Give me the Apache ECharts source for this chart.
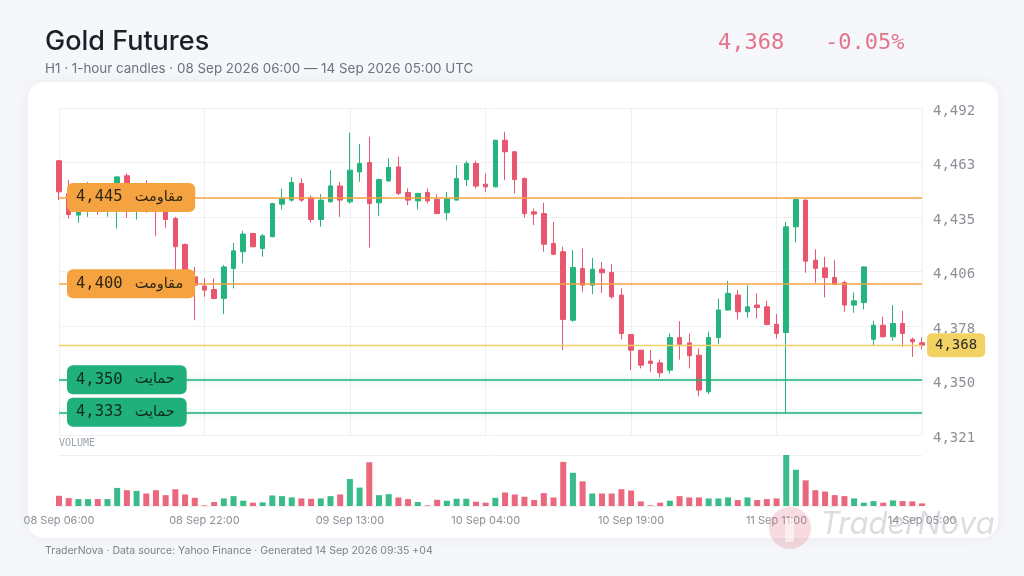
<!DOCTYPE html>
<html><head><meta charset="utf-8">
<script src="https://cdn.jsdelivr.net/npm/echarts@6/dist/echarts.min.js"></script>
<style>html,body{margin:0;padding:0;background:#f6f7fa}#c{width:1024px;height:576px}</style>
</head><body><div id="c"></div>
<script>
const categories = [
'08 Sep 06:00','08 Sep 07:00','08 Sep 08:00','08 Sep 09:00','08 Sep 10:00','08 Sep 11:00','08 Sep 12:00','08 Sep 13:00','08 Sep 14:00','08 Sep 15:00',
'08 Sep 16:00','08 Sep 17:00','08 Sep 18:00','08 Sep 19:00','08 Sep 20:00','08 Sep 22:00','08 Sep 23:00',
'09 Sep 00:00','09 Sep 01:00','09 Sep 02:00','09 Sep 03:00','09 Sep 04:00','09 Sep 05:00','09 Sep 06:00','09 Sep 07:00','09 Sep 08:00','09 Sep 09:00',
'09 Sep 10:00','09 Sep 11:00','09 Sep 12:00','09 Sep 13:00','09 Sep 14:00','09 Sep 15:00','09 Sep 16:00','09 Sep 17:00','09 Sep 18:00','09 Sep 19:00','09 Sep 20:00',
'09 Sep 22:00','09 Sep 23:00',
'10 Sep 00:00','10 Sep 01:00','10 Sep 02:00','10 Sep 03:00','10 Sep 04:00','10 Sep 05:00','10 Sep 06:00','10 Sep 07:00','10 Sep 08:00','10 Sep 09:00',
'10 Sep 10:00','10 Sep 11:00','10 Sep 12:00','10 Sep 13:00','10 Sep 14:00','10 Sep 15:00','10 Sep 16:00','10 Sep 17:00','10 Sep 18:00','10 Sep 19:00','10 Sep 20:00',
'10 Sep 22:00','10 Sep 23:00',
'11 Sep 00:00','11 Sep 01:00','11 Sep 02:00','11 Sep 03:00','11 Sep 04:00','11 Sep 05:00','11 Sep 06:00','11 Sep 07:00','11 Sep 08:00','11 Sep 09:00',
'11 Sep 10:00','11 Sep 11:00','11 Sep 12:00','11 Sep 13:00','11 Sep 14:00','11 Sep 15:00','11 Sep 16:00','11 Sep 17:00','11 Sep 18:00','11 Sep 19:00','11 Sep 20:00',
'14 Sep 00:00','14 Sep 01:00','14 Sep 02:00','14 Sep 03:00','14 Sep 04:00','14 Sep 05:00'
];
const open = [
4464.1,4447.0,4435.8,4438.0,4442.0,4438.0,4440.0,4456.3,4440.0,4446.0,
4443.0,4437.5,4434.0,4420.5,4403.6,4398.8,4397.0,4392.3,4408.0,4416.7,
4426.2,4418.4,4424.5,4441.5,4443.6,4452.3,4444.8,4433.5,4442.7,4451.0,
4442.7,4458.3,4463.2,4442.2,4453.6,4460.9,4447.6,4443.2,4447.6,4443.9,
4437.0,4443.6,4454.3,4462.7,4451.9,4450.5,4474.8,4468.8,4454.9,4437.5,
4436.6,4421.0,4416.7,4381.0,4408.0,4399.3,4407.6,4405.9,4394.1,4373.6,
4365.4,4359.7,4358.8,4355.0,4372.0,4369.2,4362.8,4343.7,4372.0,4386.3,
4394.1,4385.4,4388.9,4388.0,4378.9,4374.6,4429.7,4443.6,4412.3,4408.3,
4403.3,4400.7,4388.9,4390.2,4371.1,4378.4,4372.4,4379.3,4371.0,4369.3
];
const close = [
4447.9,4436.1,4442.0,4441.0,4439.0,4443.0,4455.7,4440.0,4444.0,4441.0,
4438.0,4433.5,4419.3,4406.2,4399.3,4396.7,4392.3,4408.8,4417.2,4425.9,
4419.3,4425.0,4441.8,4444.4,4452.8,4443.6,4433.5,4443.6,4451.0,4443.6,
4459.2,4462.7,4441.8,4454.3,4460.6,4447.1,4443.6,4447.1,4443.2,4436.6,
4444.4,4454.9,4462.7,4450.9,4450.5,4474.8,4468.8,4454.3,4436.6,4436.3,
4420.6,4415.4,4381.4,4408.5,4399.3,4407.6,4405.7,4393.2,4374.1,4365.4,
4357.6,4358.5,4353.6,4372.0,4368.5,4362.5,4344.6,4372.0,4386.3,4395.0,
4385.4,4388.0,4387.6,4378.8,4374.1,4429.7,4443.9,4411.8,4408.0,4403.3,
4399.8,4388.9,4391.1,4408.8,4378.4,4372.4,4379.3,4374.1,4369.8,4368.0
];
const low = [
4443.6,4434.0,4431.8,4434.9,4436.0,4435.0,4428.8,4434.4,4433.5,4437.0,
4424.8,4429.2,4407.1,4403.0,4381.0,4393.2,4392.0,4384.2,4397.6,4410.6,
4419.0,4414.1,4424.3,4438.7,4442.7,4442.6,4431.9,4429.7,4442.5,4434.9,
4441.8,4453.1,4418.9,4435.2,4453.1,4446.2,4441.0,4438.7,4441.8,4436.3,
4433.1,4443.5,4450.9,4449.7,4447.9,4450.3,4454.0,4447.1,4434.5,4430.6,
4416.7,4414.9,4365.4,4380.2,4395.8,4394.6,4395.3,4392.3,4371.0,4355.0,
4355.9,4354.1,4351.2,4353.3,4360.5,4355.9,4341.4,4342.5,4368.5,4386.0,
4381.4,4382.4,4381.9,4378.4,4371.5,4332.8,4421.5,4405.7,4400.5,4392.9,
4399.3,4385.4,4384.9,4386.6,4368.0,4372.0,4370.3,4367.2,4361.9,4365.8
];
const high = [
4464.5,4454.0,4446.0,4453.1,4446.0,4447.0,4456.0,4457.5,4448.0,4454.0,
4447.0,4442.0,4434.9,4421.0,4408.8,4402.8,4402.8,4409.7,4421.3,4427.6,
4426.6,4425.9,4442.2,4449.6,4455.7,4454.9,4446.0,4446.7,4459.2,4453.1,
4478.7,4472.8,4476.6,4454.9,4465.3,4466.2,4449.7,4447.3,4449.7,4446.7,
4447.9,4461.8,4464.1,4464.1,4457.5,4475.0,4479.2,4469.0,4455.4,4439.2,
4442.2,4432.3,4419.3,4417.5,4418.4,4413.5,4411.4,4410.2,4397.6,4373.8,
4365.5,4365.4,4360.5,4374.1,4380.5,4374.1,4366.3,4375.0,4392.3,4401.6,
4396.7,4399.3,4395.0,4391.1,4384.2,4432.3,4444.4,4443.9,4418.0,4414.1,
4412.3,4401.6,4395.5,4409.0,4380.7,4382.8,4388.9,4385.9,4372.0,4372.0
];
const volume = [
3100,2400,2100,2100,2100,2100,5500,4800,4600,3800,
4800,3300,5100,3500,2500,200,1200,2300,3000,1600,
1000,1100,3200,3000,2600,2300,2200,2300,3000,3500,
8200,5600,13300,3300,3600,2600,2100,1200,200,1900,
1600,2200,2200,1300,1000,2500,4100,3500,2800,1800,
3900,2600,13400,10100,7500,3800,3800,3800,5100,4700,
1400,200,1000,1600,3000,2600,2600,2300,2300,2600,
1800,2600,1800,2100,2300,15500,11000,7800,4800,4400,
3300,3000,2300,1000,1500,1000,1700,1500,1400,800
];
const labelIndex = [0, 15, 30, 44, 59, 74, 89];
const priceMin = 4321.2, priceMax = 4491.6, priceStep = 28.4;
const resistance = [4445, 4400];
const support = [4350, 4333];
const changeText = '-0.05%';

const UP = '#25b47e', DOWN = '#e8566f';
const MONO = "'DejaVu Sans Mono', monospace";
const SANS = "Inter, 'Noto Sans', sans-serif";
const ARAB = "'DejaVu Sans', 'Noto Sans', sans-serif";
const fmt = v => Math.round(v).toLocaleString('en-US');
const lastClose = close[close.length - 1];
const showIdx = (i) => labelIndex.indexOf(i) >= 0;

const candleData = open.map((o, i) => [o, close[i], low[i], high[i]]);
const volData = volume.map((v, i) => ({
  value: v,
  itemStyle: { color: close[i] >= open[i] ? UP : DOWN, opacity: 0.9 }
}));

function levelLine(val, word, color, textColor, glow) {
  return {
    yAxis: val,
    lineStyle: { color: color, width: 1.6, type: 'solid',
      shadowBlur: glow ? 5 : 0, shadowColor: glow ? 'rgba(37,180,126,0.35)' : 'transparent' },
    label: {
      show: true, position: 'insideStart', distance: [8, 0],
      formatter: '{n|' + fmt(val) + '}{s|}{w|' + word + '}',
      backgroundColor: color, color: textColor,
      padding: [6, 12, 6, 9], borderRadius: 6, verticalAlign: 'middle', align: 'left',
      rich: {
        n: { fontFamily: MONO, fontSize: 15.5, color: textColor, lineHeight: 17 },
        s: { width: 12, lineHeight: 17 },
        w: { fontFamily: ARAB, fontSize: 14.5, color: textColor, lineHeight: 17 }
      }
    }
  };
}

const chart = echarts.init(document.getElementById('c'), null, { renderer: 'canvas' });
chart.setOption({
  backgroundColor: '#f6f7fa',
  animation: false,
  graphic: [
    { type: 'rect', z: -10, shape: { x: 28, y: 82, width: 970, height: 456, r: 16 },
      style: { fill: '#ffffff', shadowBlur: 18, shadowColor: 'rgba(30,40,60,0.05)' } },
    { type: 'text', left: 45, top: 28, style: { text: 'Gold Futures', fontSize: 27, fontWeight: 500, fontFamily: SANS, fill: '#1b1f27' } },
    { type: 'text', left: 45, top: 62, style: { text: 'H1 · 1-hour candles · 08 Sep 2026 06:00 — 14 Sep 2026 05:00 UTC', fontSize: 13.4, fontFamily: SANS, fill: '#6b7280' } },
    { type: 'text', left: 718, top: 32, style: { text: fmt(lastClose), fontSize: 22, fontFamily: MONO, fill: '#e5738b' } },
    { type: 'text', left: 825, top: 32, style: { text: changeText, fontSize: 22, fontFamily: MONO, fill: '#e5738b' } },
    { type: 'text', left: 59, top: 438, style: { text: 'VOLUME', fontSize: 10, fontFamily: MONO, fill: '#9ca3af' } },
    { type: 'text', left: 45, top: 545, style: { text: 'TraderNova · Data source: Yahoo Finance · Generated 14 Sep 2026 09:35 +04', fontSize: 10.5, fontFamily: SANS, fill: '#7b8089' } },
    { type: 'circle', z: 100, shape: { cx: 790, cy: 528, r: 21 }, style: { fill: 'rgba(226,110,130,0.25)' } },
    { type: 'rect', z: 100, shape: { x: 785, y: 518, width: 9, height: 24 }, style: { fill: 'rgba(255,255,255,0.55)' } },
    { type: 'text', z: 100, left: 820, top: 509, style: { text: 'TraderNova', fontSize: 31, fontStyle: 'italic', fontFamily: SANS, fill: 'rgba(150,150,160,0.32)' } }
  ],
  grid: [
    { left: 59, right: 102, top: 108, height: 327 },
    { left: 59, right: 102, top: 455, height: 51 }
  ],
  xAxis: [
    { type: 'category', gridIndex: 0, data: categories, boundaryGap: false,
      axisLine: { show: false }, axisTick: { show: false }, axisLabel: { show: false },
      splitLine: { show: true, interval: (i) => showIdx(i), lineStyle: { color: '#eef0f3', width: 1 } } },
    { type: 'category', gridIndex: 1, data: categories, boundaryGap: false,
      axisLine: { show: false }, axisTick: { show: false }, splitLine: { show: false },
      axisLabel: { show: true, interval: (i) => showIdx(i), color: '#8a8f98', fontSize: 11, fontFamily: SANS, margin: 9, showMinLabel: true, showMaxLabel: true, hideOverlap: false } }
  ],
  yAxis: [
    { type: 'value', gridIndex: 0, position: 'right', min: priceMin, max: priceMax, interval: priceStep,
      axisLine: { show: false }, axisTick: { show: false },
      axisLabel: { formatter: fmt, color: '#8b8f96', fontSize: 14, fontFamily: MONO, margin: 11, verticalAlign: 'top', lineHeight: 6 },
      splitLine: { show: true, lineStyle: { color: '#eef0f3', width: 1 } } },
    { type: 'value', gridIndex: 1, min: 0, max: 15500, interval: 15500,
      axisLine: { show: false }, axisTick: { show: false }, axisLabel: { show: false },
      splitLine: { show: true, lineStyle: { color: '#eef0f3', width: 1 } } }
  ],
  series: [
    { type: 'candlestick', name: 'Gold', xAxisIndex: 0, yAxisIndex: 0, data: candleData,
      barWidth: 5, clip: false,
      itemStyle: { color: UP, color0: DOWN, borderColor: UP, borderColor0: DOWN, borderWidth: 1 },
      markLine: {
        symbol: ['none', 'none'], silent: true, animation: false,
        data: [
          { yAxis: lastClose, lineStyle: { color: '#f0cf6a', width: 1.3, type: 'solid' },
            label: { show: true, position: 'end', distance: 5, formatter: fmt(lastClose),
              backgroundColor: '#f3d264', color: '#2a2a2a', fontFamily: MONO, fontSize: 14,
              padding: [5, 8, 5, 8], borderRadius: 5 } },
          levelLine(resistance[0], 'مقاومت', '#f4a340', '#2e2615', false),
          levelLine(resistance[1], 'مقاومت', '#f4a340', '#2e2615', false),
          levelLine(support[0], 'حمایت', '#1fb07c', '#10281f', true),
          levelLine(support[1], 'حمایت', '#1fb07c', '#10281f', true)
        ]
      }
    },
    { type: 'bar', name: 'Volume', xAxisIndex: 1, yAxisIndex: 1, data: volData, barWidth: 6 }
  ]
});
</script></body></html>
